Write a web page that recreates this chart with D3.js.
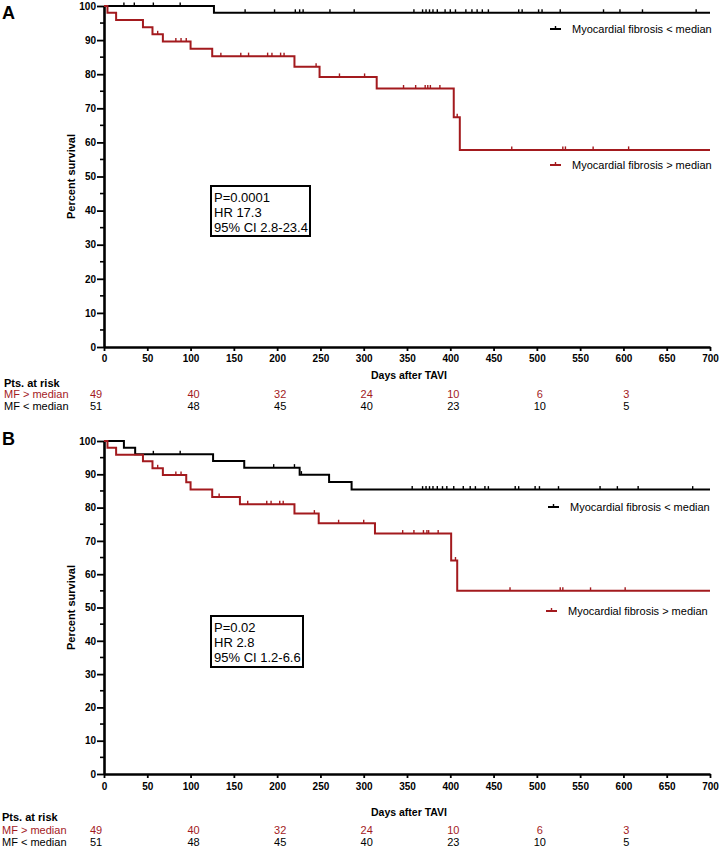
<!DOCTYPE html>
<html><head><meta charset="utf-8">
<script src="https://cdn.jsdelivr.net/npm/d3@7"></script>
<style>
body{margin:0;background:#fff}
svg{display:block}
text{font-family:"Liberation Sans",Arial,Helvetica,sans-serif}
</style>
</head><body>
<svg id="c" width="726" height="849"></svg>
<script>
// ---------- DATA ----------
const xTickValues = [0,50,100,150,200,250,300,350,400,450,500,550,600,650,700];
const yTickValues = [0,10,20,30,40,50,60,70,80,90,100];
const yMinorValues = [5,15,25,35,45,55,65,75,85,95];
const riskDays = [0,100,200,300,400,500,600];
const riskHigh = [49,40,32,24,10,6,3];
const riskLow  = [51,48,45,40,23,10,5];
const groupLabels = ["MF > median","MF < median"];
const legendLabels = ["Myocardial fibrosis < median","Myocardial fibrosis > median"];

// Panel A (all-cause endpoint)
const aLowTimes  = [0,127];
const aLowSurv   = [100,98.0];
const aLowCens   = [23,35,57,88,163,197,221,226,230,261,289,358,368,372,376,380,385,394,400,406,418,425,431,437,444,479,483,502,506,527,577,596,622,684];
const aHighTimes = [0,4,14,45,56,68,100,125,220,249,315,404,411];
const aHighSurv  = [100,98.0,95.9,93.8,91.7,89.6,87.5,85.3,82.2,79.2,75.8,67.4,57.8];
const aHighCens  = [62,83,89,95,135,158,167,189,194,204,208,245,272,301,346,360,371,374,377,388,408,471,530,533,565,606];
const aStats = ["P=0.0001","HR 17.3","95% CI 2.8-23.4"];

// Panel B
const bLowTimes  = [0,23,36,126,162,226,260,286];
const bLowSurv   = [100,98.0,96.0,94.0,92.0,89.9,87.7,85.4];
const bLowCens   = [57,88,196,220,228,356,368,372,376,380,385,391,396,404,415,423,429,440,444,475,479,498,503,525,573,593,617,680];
const bHighTimes = [0,4,14,45,56,68,95,100,125,157,220,248,313,401,408];
const bHighSurv  = [100,98.0,95.9,93.9,91.8,89.8,87.6,85.4,83.2,81.0,78.2,75.3,72.2,64.1,55.0];
const bHighCens  = [62,83,89,133,166,188,193,203,207,243,271,300,345,358,369,373,375,386,406,469,527,530,562,602];
const bStats = ["P=0.02","HR 2.8","95% CI 1.2-6.6"];

// ---------- DRAW ----------
const RED = "#a31a1e";
const svg = d3.select("#c");
const x = d3.scaleLinear().domain([0,700]).range([104,710]);

function survAt(times, surv, t){
  const i = d3.bisectRight(times, t) - 1;
  return surv[Math.max(0,i)];
}

function drawPanel(p){
  const y = d3.scaleLinear().domain([0,100]).range([p.bottom, p.top]);
  const g = svg.append("g");

  // panel letter
  g.append("text").attr("x",2).attr("y",p.letterY).attr("font-size",18).attr("font-weight","bold").text(p.letter);

  // y minor ticks
  g.append("g").selectAll("line").data(yMinorValues).join("line")
    .attr("x1",x(0)-4).attr("x2",x(0)).attr("y1",d=>y(d)).attr("y2",d=>y(d))
    .attr("stroke","#000").attr("stroke-width",1.6);

  // axes
  const ya = g.append("g").attr("transform",`translate(${x(0)},0)`)
    .call(d3.axisLeft(y).tickValues(yTickValues).tickSize(7).tickPadding(1).tickSizeOuter(0));
  ya.select(".domain").attr("stroke-width",2.6);
  ya.selectAll(".tick line").attr("stroke-width",1.8);
  ya.selectAll("text").attr("font-size",10).attr("font-weight","bold").attr("font-family","Liberation Sans, Arial, sans-serif");

  const xa = g.append("g").attr("transform",`translate(0,${p.bottom})`)
    .call(d3.axisBottom(x).tickValues(xTickValues).tickSize(4).tickPadding(p.xPad).tickSizeOuter(0));
  xa.select(".domain").attr("stroke-width",2.6);
  xa.selectAll(".tick line").attr("stroke-width",1.8);
  xa.selectAll("text").attr("font-size",10).attr("font-weight","bold").attr("font-family","Liberation Sans, Arial, sans-serif");

  // axis titles
  g.append("text").attr("transform",`translate(75,${(p.top+p.bottom)/2}) rotate(-90)`)
    .attr("text-anchor","middle").attr("font-size",11).attr("font-weight","bold").text("Percent survival");
  g.append("text").attr("x",409).attr("y",p.xTitleY).attr("text-anchor","middle")
    .attr("font-size",10.5).attr("font-weight","bold").text("Days after TAVI");

  // curves
  const line = d3.line().x(d=>x(d[0])).y(d=>y(d[1])).curve(d3.curveStepAfter);
  const series = [
    {times:p.lowT, surv:p.lowS, cens:p.lowC, color:"#000"},
    {times:p.highT, surv:p.highS, cens:p.highC, color:RED}
  ];
  series.forEach(s=>{
    const pts = s.times.map((t,i)=>[t,s.surv[i]]);
    pts.push([700, s.surv[s.surv.length-1]]);
    g.append("path").attr("d",line(pts)).attr("fill","none").attr("stroke",s.color).attr("stroke-width",2);
    g.append("g").selectAll("line").data(s.cens).join("line")
      .attr("x1",d=>x(d)).attr("x2",d=>x(d))
      .attr("y1",d=>y(survAt(s.times,s.surv,d))-3.5).attr("y2",d=>y(survAt(s.times,s.surv,d)))
      .attr("stroke",s.color).attr("stroke-width",1.4);
  });

  // legends
  p.legend.forEach((L,i)=>{
    const c = i===0 ? "#000" : RED;
    g.append("line").attr("x1",L.x-22).attr("x2",L.x-11).attr("y1",L.y).attr("y2",L.y).attr("stroke",c).attr("stroke-width",2);
    g.append("line").attr("x1",L.x-16.5).attr("x2",L.x-16.5).attr("y1",L.y-3).attr("y2",L.y).attr("stroke",c).attr("stroke-width",1.4);
    g.append("text").attr("x",L.x).attr("y",L.y+4).attr("font-size",11).text(legendLabels[i]);
  });

  // stats box
  g.append("rect").attr("x",p.box[0]).attr("y",p.box[1]).attr("width",p.box[2]).attr("height",p.box[3])
    .attr("fill","#fff").attr("stroke","#000").attr("stroke-width",2);
  p.stats.forEach((s,i)=>{
    g.append("text").attr("x",p.box[0]+3).attr("y",p.box[1]+16+i*15).attr("font-size",13).text(s);
  });

  // risk table
  g.append("text").attr("x",p.riskX).attr("y",p.riskY[0]).attr("font-size",11).attr("font-weight","bold").text("Pts. at risk");
  const rows = [{vals:riskHigh,color:RED},{vals:riskLow,color:"#000"}];
  rows.forEach((r,ri)=>{
    const yy = p.riskY[ri+1];
    g.append("text").attr("x",p.riskX).attr("y",yy).attr("font-size",11).attr("fill",r.color).text(groupLabels[ri]);
    g.append("g").selectAll("text").data(riskDays).join("text")
      .attr("x",d=>x(d)+(d===0?-8:3)).attr("y",yy).attr("text-anchor","middle")
      .attr("font-size",11).attr("fill",r.color).text((d,i)=>r.vals[i]);
  });
}

drawPanel({
  letter:"A", letterY:19, top:6, bottom:347, xPad:4, xTitleY:379,
  lowT:aLowTimes, lowS:aLowSurv, lowC:aLowCens,
  highT:aHighTimes, highS:aHighSurv, highC:aHighCens,
  legend:[{x:572,y:29},{x:572,y:165}],
  box:[211,186,99,50], stats:aStats,
  riskX:4, riskY:[387,398,410]
});
drawPanel({
  letter:"B", letterY:445, top:441, bottom:774, xPad:5, xTitleY:816,
  lowT:bLowTimes, lowS:bLowSurv, lowC:bLowCens,
  highT:bHighTimes, highS:bHighSurv, highC:bHighCens,
  legend:[{x:570,y:507},{x:568,y:611}],
  box:[211,616,92,51], stats:bStats,
  riskX:2, riskY:[821,834,846]
});
</script>
</body></html>
